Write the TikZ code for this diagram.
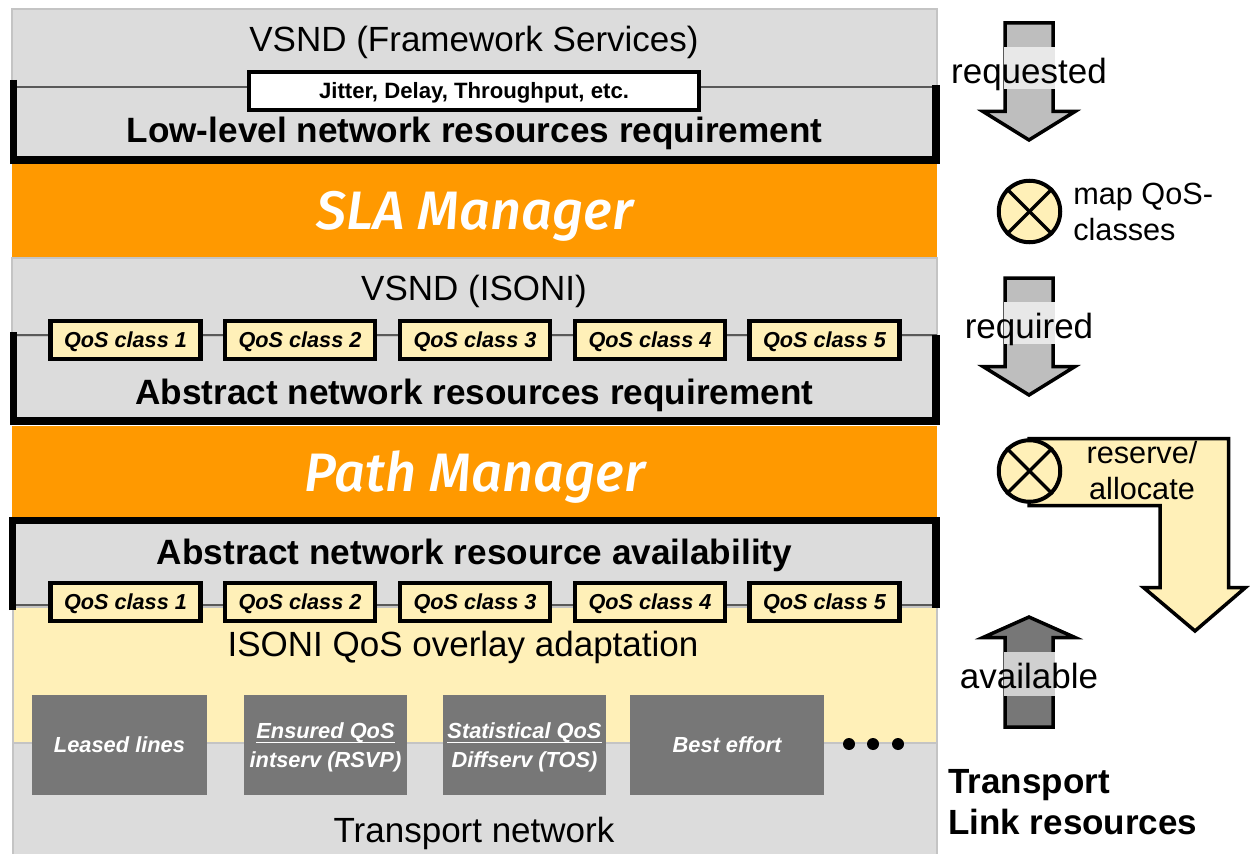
\documentclass[tikz,border=0pt]{standalone}
\usepackage{fontspec}
\setmainfont{Liberation Sans}
\newfontfamily\mgrfont{Fira Sans Medium}
\definecolor{bandgrey}{HTML}{DCDCDC}
\definecolor{edgegrey}{HTML}{C4C4C4}
\definecolor{mgrorange}{HTML}{FF9900}
\definecolor{paleyellow}{HTML}{FFF0B8}
\definecolor{techgrey}{HTML}{777777}
\definecolor{arrowgrey}{HTML}{BEBEBE}
\definecolor{darkarrow}{HTML}{777777}
\definecolor{bandlight}{HTML}{E8E8E8}
\definecolor{banddark}{HTML}{D0D0D0}
\newcommand{\fsz}[1]{\fontsize{#1pt}{\dimexpr #1pt*118/100\relax}\selectfont}
\newsavebox\ulbox
\newcommand{\thickul}[1]{\rule{0pt}{12pt}\sbox\ulbox{#1}\usebox\ulbox\llap{\rule[-3pt]{\wd\ulbox}{0.8pt}}}
\tikzset{
  x=0.6pt,y=-0.6pt,
  layer/.style={fill=bandgrey,draw=edgegrey,line width=1pt},
  mgrlayer/.style={fill=mgrorange,draw=none},
  yellowlayer/.style={fill=paleyellow,draw=edgegrey,line width=1pt},
  framethick/.style={draw=black,line width=4.5pt,line cap=butt},
  framethin/.style={draw=black!65,line width=0.9pt},
  txtlabel/.style={text=black,font=\fsz{21},inner sep=0pt},
  heading/.style={text=black,font=\fsz{21.1}\bfseries,inner sep=0pt},
  mgrtext/.style={text=white,font=\fsz{32.5}\mgrfont\itshape,inner sep=0pt},
  qosbox/.style={fill=paleyellow,draw=black,line width=2.7pt,minimum width=90pt,minimum height=23pt,inner sep=0pt,font=\fsz{13}\bfseries\itshape,text height=9.4pt,text depth=0pt},
  jitbox/.style={draw=black,line width=2.7pt,fill=white,minimum width=270pt,minimum height=23pt,inner sep=0pt,font=\fsz{13.3}\bfseries,text height=9.6pt,text depth=0pt},
  techbox/.style={fill=techgrey,draw=none,inner sep=0pt,text=white,font=\fsz{13.1}\bfseries\itshape,align=center,minimum height=60pt},
  blockarrow/.style={draw=black,line width=2.1pt,line join=miter},
  shadeband/.style={fill=bandlight,draw=none},
  darkband/.style={fill=banddark,draw=none},
  mixer/.style={circle,fill=paleyellow,draw=black,line width=2.4pt,minimum size=36.9pt,inner sep=0pt},
  mixline/.style={draw=black,line width=2pt},
  rlabel/.style={text=black,font=\fsz{21},inner sep=0pt},
  slabel/.style={text=black,font=\fsz{18.4},inner sep=0pt,align=left},
  blackdot/.style={circle,fill=black,draw=none,minimum size=7.2pt,inner sep=0pt}
}
\begin{document}
\begin{tikzpicture}
\useasboundingbox (0,0) rectangle (1250,854);
% layers
\path[layer] (12,9) rectangle (937,87);
\path[layer] (12,87) rectangle (937,162);
\path[mgrlayer] (12,164) rectangle (937,257);
\path[layer] (12,258) rectangle (937,336);
\path[layer] (12,336) rectangle (937,424);
\path[mgrlayer] (12,426) rectangle (937,517);
\path[layer] (12,519) rectangle (937,606);
\path[yellowlayer] (13,607) rectangle (937,743);
\path[layer] (13,743) rectangle (937,860);
% frames
\draw[framethin] (12,87) -- (937,87);
\draw[framethick] (13.5,80) -- (13.5,160) -- (936.2,160) -- (936.2,85);
\draw[framethin] (12,335) -- (937,335);
\draw[framethick] (13.5,332) -- (13.5,421) -- (936.2,421) -- (936.2,335);
\draw[framethin] (12,605) -- (937,605);
\draw[framethick] (12.5,610) -- (12.5,520.5) -- (936.2,520.5) -- (936.2,608);
% layer text
\node[txtlabel] (vsndf) at (474,42) {VSND (Framework Services)};
\node[jitbox] (jit) at (474,91) {Jitter, Delay, Throughput, etc.};
\node[heading] (low) at (474.5,133) {Low-level network resources requirement};
\node[mgrtext] (sla) at (475,216) {SLA Manager};
\node[txtlabel] (vsndi) at (474,291) {VSND (ISONI)};
\node[heading] (absreq) at (474.5,395) {Abstract network resources requirement};
\node[mgrtext] (path) at (475,477) {Path Manager};
\node[heading] (absav) at (474.5,555) {Abstract network resource availability};
\node[txtlabel] (iso) at (463,647) {ISONI QoS overlay adaptation};
\node[txtlabel] (trans) at (474,833) {Transport network};
% QoS boxes
\node[qosbox] (qa1) at (125.5,340) {QoS class 1};
\node[qosbox] (qa2) at (300,340) {QoS class 2};
\node[qosbox] (qa3) at (475,340) {QoS class 3};
\node[qosbox] (qa4) at (650,340) {QoS class 4};
\node[qosbox] (qa5) at (824.5,340) {QoS class 5};
\node[qosbox] (qb1) at (125.5,602) {QoS class 1};
\node[qosbox] (qb2) at (300,602) {QoS class 2};
\node[qosbox] (qb3) at (475,602) {QoS class 3};
\node[qosbox] (qb4) at (650,602) {QoS class 4};
\node[qosbox] (qb5) at (824.5,602) {QoS class 5};
% technology boxes
\node[techbox,minimum width=105pt] (t1) at (119.5,745) {Leased lines};
\node[techbox,minimum width=97.8pt] (t2) at (325.5,745) {\thickul{Ensured QoS}\\[2.2pt]intserv (RSVP)};
\node[techbox,minimum width=97.8pt] (t3) at (524.5,745) {\thickul{Statistical QoS}\\[2.2pt]Diffserv (TOS)};
\node[techbox,minimum width=116.4pt] (t4) at (727,745) {Best effort};
\node[blackdot] (d1) at (849,744) {};
\node[blackdot] (d2) at (873,744) {};
\node[blackdot] (d3) at (898,744) {};
% arrow requested
\path[blockarrow,fill=arrowgrey] (1005,23) -- (1053,23) -- (1053,111.5) -- (1075,111.5) -- (1029,140) -- (983,111.5) -- (1005,111.5) -- cycle;
\path[shadeband] (1003.5,47) rectangle (1054.5,89);
\node[rlabel] (req) at (1029,74) {requested};
% mixer
\node[mixer] (m1) at (1029.5,211.5) {};
\draw[mixline] (m1.north west) -- (m1.south east);
\draw[mixline] (m1.north east) -- (m1.south west);
\node[slabel,anchor=west] (mapq) at (1073,212) {map QoS-\\classes};
% arrow required
\path[blockarrow,fill=arrowgrey] (1005,278) -- (1053,278) -- (1053,366.5) -- (1075,366.5) -- (1029,395) -- (983,366.5) -- (1005,366.5) -- cycle;
\path[shadeband] (1003.5,302) rectangle (1054.5,344);
\node[rlabel] (reqd) at (1029,329) {required};
% L arrow
\path[blockarrow,fill=paleyellow] (1029,438.5) -- (1228.5,438.5) -- (1228.5,587.5) -- (1245.5,587.5) -- (1195,631) -- (1143.5,587.5) -- (1160,587.5) -- (1160,505.5) -- (1029,505.5) -- cycle;
\node[mixer] (m2) at (1029.5,471) {};
\draw[mixline] (m2.north west) -- (m2.south east);
\draw[mixline] (m2.north east) -- (m2.south west);
\node[slabel,align=center] (res) at (1142,470.5) {reserve/\\allocate};
% arrow available
\path[blockarrow,fill=darkarrow] (1005,727) -- (1053,727) -- (1053,637.5) -- (1075,637.5) -- (1029,617) -- (983,637.5) -- (1005,637.5) -- cycle;
\path[darkband] (1003.5,652) rectangle (1054.5,696);
\node[rlabel] (av) at (1029,676) {available};
% transport link
\node[text=black,font=\fsz{21}\bfseries,inner sep=0pt,anchor=west,align=left] (tl) at (948,802) {Transport\\Link resources};
\end{tikzpicture}
\end{document}
